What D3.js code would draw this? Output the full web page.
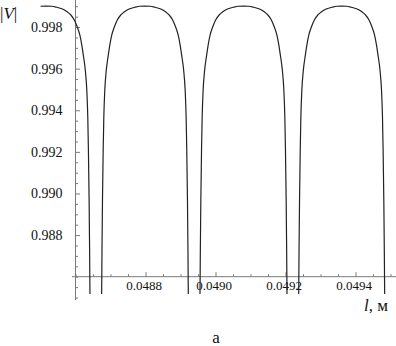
<!DOCTYPE html>
<html><head><meta charset="utf-8">
<script src="https://cdn.jsdelivr.net/npm/d3@7"></script>
<style>
html,body{margin:0;padding:0;background:#fff;}
svg{display:block;}
svg text{font-family:"Liberation Serif","Times New Roman","DejaVu Serif",serif !important;}
</style></head>
<body>
<svg id="chart" width="396" height="346"></svg>
<script>
// Data: l (m) and |V|
const lValues = [
0.0485000, 0.0485180,
0.0485323, 0.0485466, 0.0485609, 0.0485751, 0.0485866, 0.0485966, 0.0486051, 0.0486123, 0.0486180, 0.0486223, 0.0486280, 0.0486323, 0.0486351, 0.0486369, 0.0486389, 0.0486403, 0.0486414, 0.0486435,
0.0486725, 0.0486746, 0.0486757, 0.0486771, 0.0486791, 0.0486809, 0.0486837, 0.0486880, 0.0486937, 0.0486980, 0.0487037, 0.0487109, 0.0487194, 0.0487294, 0.0487409, 0.0487551, 0.0487694, 0.0487837,
0.0487980,
0.0488133, 0.0488276, 0.0488419, 0.0488561, 0.0488676, 0.0488776, 0.0488861, 0.0488933, 0.0488990, 0.0489033, 0.0489090, 0.0489133, 0.0489161, 0.0489179, 0.0489199, 0.0489213, 0.0489224, 0.0489245,
0.0489535, 0.0489556, 0.0489567, 0.0489581, 0.0489601, 0.0489619, 0.0489647, 0.0489690, 0.0489747, 0.0489790, 0.0489847, 0.0489919, 0.0490004, 0.0490104, 0.0490219, 0.0490361, 0.0490504, 0.0490647,
0.0490800,
0.0490953, 0.0491096, 0.0491239, 0.0491381, 0.0491496, 0.0491596, 0.0491681, 0.0491753, 0.0491810, 0.0491853, 0.0491910, 0.0491953, 0.0491981, 0.0491999, 0.0492019, 0.0492033, 0.0492044, 0.0492065,
0.0492355, 0.0492376, 0.0492387, 0.0492401, 0.0492421, 0.0492439, 0.0492467, 0.0492510, 0.0492567, 0.0492610, 0.0492667, 0.0492739, 0.0492824, 0.0492924, 0.0493039, 0.0493181, 0.0493324, 0.0493467,
0.0493605,
0.0493743, 0.0493886, 0.0494029, 0.0494171, 0.0494286, 0.0494386, 0.0494471, 0.0494543, 0.0494600, 0.0494643, 0.0494700, 0.0494743, 0.0494771, 0.0494789, 0.0494809, 0.0494823, 0.0494834
];
const vValues = [
0.99900, 0.99901,
0.99900, 0.99895, 0.99888, 0.99875, 0.99858, 0.99834, 0.99800, 0.99762, 0.99713, 0.99665, 0.99593, 0.99497, 0.99367, 0.99209, 0.98968, 0.98728, 0.98502, 0.98400,
0.98400, 0.98502, 0.98728, 0.98968, 0.99209, 0.99367, 0.99497, 0.99593, 0.99665, 0.99713, 0.99762, 0.99800, 0.99834, 0.99858, 0.99875, 0.99888, 0.99895, 0.99900,
0.99901,
0.99900, 0.99895, 0.99888, 0.99875, 0.99858, 0.99834, 0.99800, 0.99762, 0.99713, 0.99665, 0.99593, 0.99497, 0.99367, 0.99209, 0.98968, 0.98728, 0.98502, 0.98400,
0.98400, 0.98502, 0.98728, 0.98968, 0.99209, 0.99367, 0.99497, 0.99593, 0.99665, 0.99713, 0.99762, 0.99800, 0.99834, 0.99858, 0.99875, 0.99888, 0.99895, 0.99900,
0.99901,
0.99900, 0.99895, 0.99888, 0.99875, 0.99858, 0.99834, 0.99800, 0.99762, 0.99713, 0.99665, 0.99593, 0.99497, 0.99367, 0.99209, 0.98968, 0.98728, 0.98502, 0.98400,
0.98400, 0.98502, 0.98728, 0.98968, 0.99209, 0.99367, 0.99497, 0.99593, 0.99665, 0.99713, 0.99762, 0.99800, 0.99834, 0.99858, 0.99875, 0.99888, 0.99895, 0.99900,
0.99901,
0.99900, 0.99895, 0.99888, 0.99875, 0.99858, 0.99834, 0.99800, 0.99762, 0.99713, 0.99665, 0.99593, 0.99497, 0.99367, 0.99209, 0.98968, 0.98728, 0.98502
];
const xMajorTicks = [0.0488, 0.0490, 0.0492, 0.0494];
const xTickLabels = ["0.0488", "0.0490", "0.0492", "0.0494"];
const yMajorTicks = [0.988, 0.990, 0.992, 0.994, 0.996, 0.998];
const yTickLabels = ["0.988", "0.990", "0.992", "0.994", "0.996", "0.998"];
const xOrigin = 0.0486, yOrigin = 0.986;

const svg = d3.select("#chart");
const x = d3.scaleLinear().domain([0.0485, 0.04951714]).range([40.5, 396.5]);
const y = d3.scaleLinear().domain([0.98488, 0.9993]).range([300, 0]);

const xMinor = d3.range(0.04860, 0.04952, 0.00005).filter(v => !xMajorTicks.some(m => Math.abs(m - v) < 1e-9));
const yMinor = d3.range(0.9850, 0.99905, 0.0005).filter(v => !yMajorTicks.some(m => Math.abs(m - v) < 1e-9));

const axisColor = "#7a7a7a";
const serif = '"Liberation Serif", "Times New Roman", "DejaVu Serif", serif';

// X axis
const gx = svg.append("g").attr("transform", `translate(0,${y(yOrigin)})`);
gx.append("line").attr("x1", 72).attr("x2", 396).attr("stroke", axisColor).attr("stroke-width", 1);
const gxMinor = gx.append("g").call(d3.axisBottom(x).tickValues(xMinor).tickSizeInner(-2.5).tickSizeOuter(0).tickFormat(""));
const gxMajor = gx.append("g").call(d3.axisBottom(x).tickValues(xMajorTicks).tickSizeInner(-4.5).tickSizeOuter(0).tickPadding(4)
  .tickFormat((d, i) => xTickLabels[i]));
[gxMinor, gxMajor].forEach(g => { g.attr("font-family", null); g.select(".domain").remove(); g.selectAll("line").attr("stroke", axisColor); });
gxMajor.selectAll("text").style("font-family", serif).style("font-size", "13px").attr("fill", "#111").attr("dx", -2);

// Y axis
const gy = svg.append("g").attr("transform", `translate(${x(xOrigin)},0)`);
gy.append("line").attr("y1", 0).attr("y2", 300).attr("stroke", axisColor).attr("stroke-width", 1);
const gyMinor = gy.append("g").call(d3.axisLeft(y).tickValues(yMinor).tickSizeInner(-2.5).tickSizeOuter(0).tickFormat(""));
const gyMajor = gy.append("g").call(d3.axisLeft(y).tickValues(yMajorTicks).tickSizeInner(-4.5).tickSizeOuter(0).tickPadding(13)
  .tickFormat((d, i) => yTickLabels[i]));
[gyMinor, gyMajor].forEach(g => { g.attr("font-family", null); g.select(".domain").remove(); g.selectAll("line").attr("stroke", axisColor); });
gyMajor.selectAll("text").style("font-family", serif).style("font-size", "14px").attr("fill", "#111");

// Curve
svg.append("clipPath").attr("id", "clip").append("rect").attr("x", 0).attr("y", 0).attr("width", 396).attr("height", 294);
const pts = lValues.map((l, i) => [l, vValues[i]]);
const line = d3.line().x(d => x(d[0])).y(d => y(d[1])).curve(d3.curveMonotoneX);
svg.append("path").attr("clip-path", "url(#clip)").datum(pts).attr("d", line)
  .attr("fill", "none").attr("stroke", "#222").attr("stroke-width", 1.2);

// Labels
const tV = svg.append("text").attr("x", 0).attr("y", 19).style("font-family", serif).style("font-size", "17px").attr("fill", "#111");
tV.append("tspan").text("|");
tV.append("tspan").attr("font-style", "italic").text("V");
tV.append("tspan").text("|");

const tl = svg.append("text").attr("x", 364).attr("y", 311).style("font-family", serif).style("font-size", "17px").attr("fill", "#111");
tl.append("tspan").attr("font-style", "italic").text("l");
tl.append("tspan").text(", м");

svg.append("text").attr("x", 216).attr("y", 343).attr("text-anchor", "middle").style("font-family", serif).style("font-size", "17px").attr("fill", "#111").text("а");
</script>
</body></html>
